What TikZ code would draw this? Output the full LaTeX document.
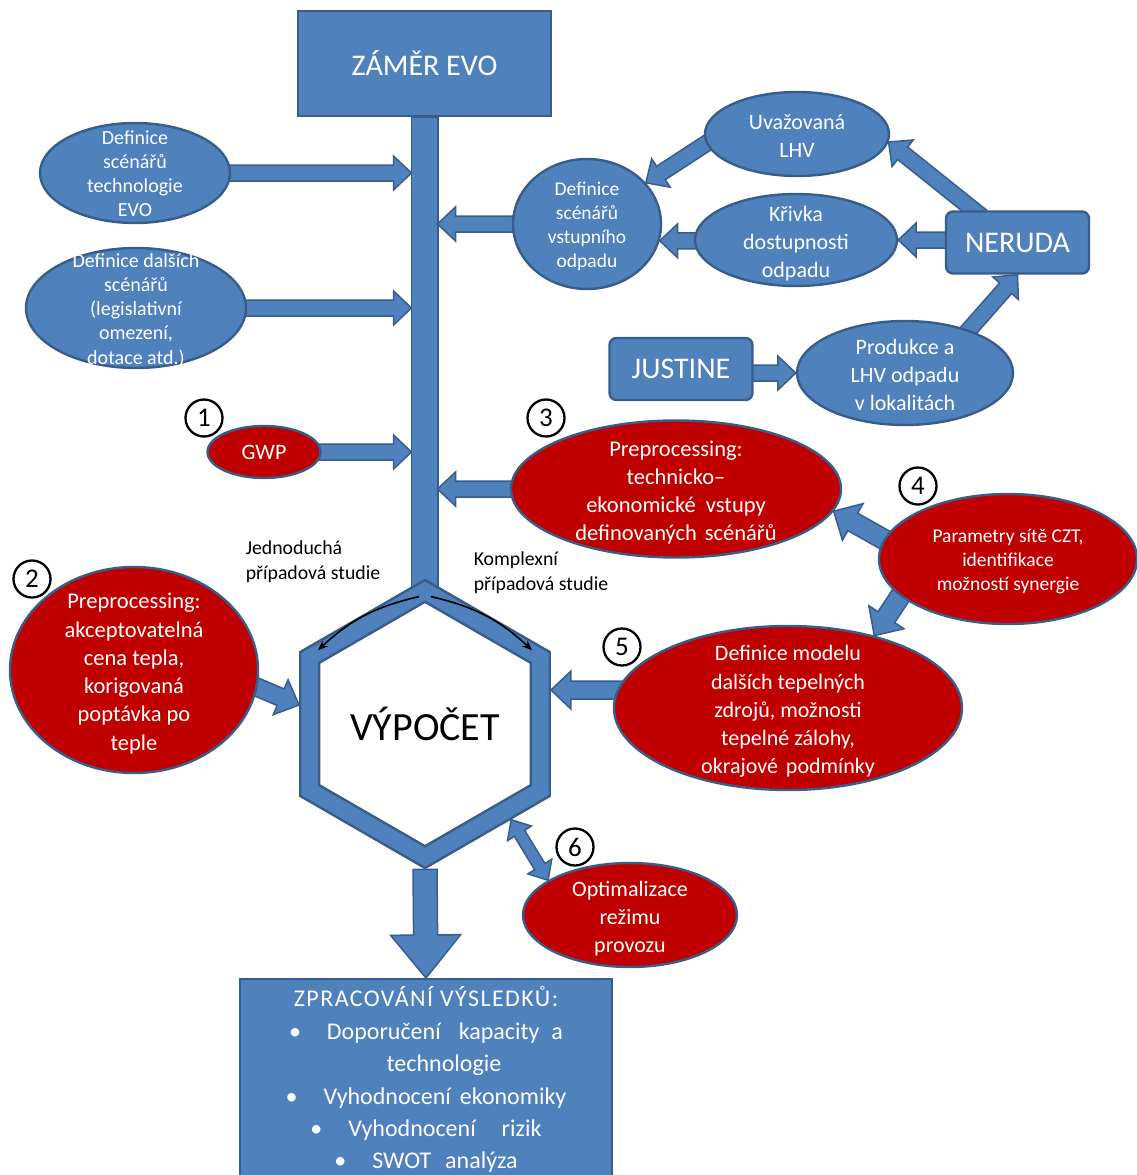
\documentclass[tikz,border=0pt]{standalone}
\usepackage{fontspec}
\setmainfont{Carlito}
\usepackage{tikz}
\usetikzlibrary{shapes.geometric,calc,backgrounds,arrows.meta}

\definecolor{boxblue}{HTML}{4F81BD}
\definecolor{edgeblue}{HTML}{385D8A}
\definecolor{boxred}{HTML}{C00000}

\newcommand\fs[2]{\fontsize{#1}{#2}\selectfont}
\newcommand\ml[1]{\smash{\makebox[0pt]{\raisebox{-.4em}{\begin{tabular}{@{}c@{}}#1\end{tabular}}}}}

% block arrow: tail, tip, half shaft, half head, head length
\newcommand\barr[5]{%
    \path (#1) coordinate (ba) (#2) coordinate (bb);
    \coordinate (bn) at ($(bb)!#5!(ba)$);
    \filldraw[blockarrow] ($(ba)!#3!90:(bb)$) -- ($(bn)!#3!90:(bb)$) -- ($(bn)!#4!90:(bb)$) -- (bb)
        -- ($(bn)!#4!-90:(bb)$) -- ($(bn)!#3!-90:(bb)$) -- ($(ba)!#3!-90:(bb)$) -- cycle;
}
\newcommand\dbarr[5]{%
    \path (#1) coordinate (ba) (#2) coordinate (bb);
    \coordinate (bm) at ($(ba)!#5!(bb)$);
    \coordinate (bn) at ($(bb)!#5!(ba)$);
    \filldraw[blockarrow] (ba) -- ($(bm)!#4!90:(bb)$) -- ($(bm)!#3!90:(bb)$) -- ($(bn)!#3!90:(bb)$) -- ($(bn)!#4!90:(bb)$) -- (bb)
        -- ($(bn)!#4!-90:(bb)$) -- ($(bn)!#3!-90:(bb)$) -- ($(bm)!#3!-90:(bb)$) -- ($(bm)!#4!-90:(bb)$) -- cycle;
}

\tikzset{
    blueshape/.style={draw=edgeblue, line width=2.4pt, fill=boxblue, text=white, inner sep=0pt},
    bellipse/.style={blueshape, ellipse},
    rellipse/.style={blueshape, ellipse, fill=boxred},
    hexa/.style={blueshape, regular polygon, regular polygon sides=6, shape border rotate=30},
    tool/.style={blueshape, rounded corners=7pt, minimum width=143pt, minimum height=62pt, font=\fs{30}{36}},
    num/.style={circle, draw=black, line width=2.3pt, fill=white, minimum size=37pt, inner sep=0pt, font=\fs{27}{30}},
    blockarrow/.style={draw=edgeblue, line width=1.5pt, fill=boxblue},
    note/.style={align=left, font=\fs{19.8}{25}},
}

\begin{document}
\begin{tikzpicture}[x=1pt, y=-1pt]
    \useasboundingbox (0,0) rectangle (1137,1175);

    \node (zamer) [blueshape, minimum width=253pt, minimum height=105pt, font=\fs{30}{36}] at (424.5,63.5) {ZÁMĚR EVO};
    \node (hex) [hexa, minimum size=288pt] at (425,724) {};
    \node (vypocet) [hexa, minimum size=236pt, fill=white, text=black, font=\fs{40}{46}] at (hex) {VÝPOČET};
    \coordinate (barW) at ([xshift=-13pt]zamer.south);
    \coordinate (barE) at ([xshift=13pt]zamer.south);

    \node (tech) [bellipse, minimum width=190pt, minimum height=100pt, font=\fs{20}{24}] at (135,173) {\ml{Definice\\scénářů\\technologie\\EVO}};
    \node (legis) [bellipse, minimum width=220pt, minimum height=120pt, font=\fs{20}{24.3}] at (136,308) {\ml{Definice dalších\\scénářů\\(legislativní\\omezení,\\dotace atd.)}};
    \node (gwp) [rellipse, minimum width=113pt, minimum height=52pt, font=\fs{22}{28}] at (264,452) {GWP};

    \node (vstup) [bellipse, minimum width=148pt, minimum height=130pt, font=\fs{19.5}{24}] at (587,224) {\ml{Definice\\scénářů\\vstupního\\odpadu}};
    \node (uvaz) [bellipse, minimum width=184pt, minimum height=84pt, font=\fs{22}{28}] at (797,134) {\ml{Uvažovaná\\LHV}};
    \node (kriv) [bellipse, minimum width=202pt, minimum height=92pt, font=\fs{22}{28}] at (796,240) {\ml{Křivka\\dostupnosti\\odpadu}};
    \node (neruda) [tool] at (1017.5,242.5) {NERUDA};
    \node (justine) [tool] at (681,369) {JUSTINE};
    \node (prod) [bellipse, minimum width=216pt, minimum height=104pt, font=\fs{22}{28}] at (905,373) {\ml{Produkce a\\LHV odpadu\\v lokalitách}};

    \node (tevstup) [rellipse, minimum width=330pt, minimum height=137pt, font=\fs{22.5}{28}] at (676,489) {\ml{Preprocessing:\\technicko--\\ekonomické\hspace{10pt}vstupy\\definovaných\hspace{8pt}scénářů}};
    \node (czt) [rellipse, minimum width=258pt, minimum height=130pt, font=\fs{19.5}{24}] at (1008,559) {\ml{Parametry sítě CZT,\\identifikace\\možností synergie}};
    \node (zdroje) [rellipse, minimum width=348pt, minimum height=164pt, font=\fs{22}{28.2}] at (788,708) {\ml{Definice modelu\\dalších tepelných\\zdrojů, možnosti\\tepelné zálohy,\\okrajové\hspace{8pt}podmínky}};
    \node (cena) [rellipse, minimum width=248pt, minimum height=206pt, font=\fs{22.5}{28.3}] at (134,670) {\ml{Preprocessing:\\akceptovatelná\\cena tepla,\\korigovaná\\poptávka po\\teple}};
    \node (provoz) [rellipse, minimum width=214pt, minimum height=104pt, font=\fs{22}{28}] at (630,915) {\ml{Optimalizace\\režimu\\provozu}};

    \node (vysl) [blueshape, anchor=north, minimum width=372pt, minimum height=201pt, font=\fs{24}{32.4}, align=center] at (426,978)
        {{\addfontfeature{LetterSpace=6}ZPRACOVÁNÍ VÝSLEDKŮ:}\\ •\hspace{26pt}Doporučení\hspace{18pt}kapacity\hspace{12pt}a\\ \hspace*{36pt}technologie\\
         •\hspace{26pt}Vyhodnocení\hspace{9pt}ekonomiky\\ •\hspace{26pt}Vyhodnocení\hspace{26pt}rizik\\ •\hspace{26pt}SWOT\hspace{14pt}analýza};

    \node (n1) [num] at (204,418) {1};
    \node (n2) [num] at (32,579) {2};
    \node (n3) [num] at (546,418) {3};
    \node (n4) [num] at (918,486) {4};
    \node (n5) [num] at (622,647) {5};
    \node (n6) [num] at (575,847) {6};

    \node (jedn) [note] at (313,562) {Jednoduchá\\případová studie};
    \node (kompl) [note] at (541,573) {Komplexní\\případová studie};

    \coordinate (fork) at ([yshift=-18pt]hex.north);
    \draw[-{Stealth[length=10pt,width=8pt]}, line width=1.6pt] ([xshift=-6pt]fork) to[bend right=15] ([yshift=12pt]vypocet.150);
    \draw[-{Stealth[length=10pt,width=8pt]}, line width=1.6pt] ([xshift=6pt]fork) to[bend left=15] ([yshift=12pt]vypocet.30);

    \begin{scope}[on background layer]
        \filldraw[blockarrow] (barW) rectangle ([xshift=13pt, yshift=-30pt]hex.north);
        \barr{$(tech.east)+(-6,0)$}{tech.east -| barW}{8pt}{17pt}{18pt}
        \barr{$(legis.east)+(-6,0)$}{legis.east -| barW}{8pt}{17pt}{18pt}
        \barr{$(gwp.east)+(-6,0)$}{gwp.east -| barW}{8pt}{17pt}{18pt}
        \barr{$(vstup.west)+(6,0)$}{vstup.west -| barE}{8pt}{17pt}{18pt}
        \barr{$(tevstup.west)+(6,0)$}{tevstup.west -| barE}{8pt}{17pt}{18pt}
        \barr{$(uvaz.186)!-8pt!(vstup.35)$}{vstup.35}{8pt}{17pt}{18pt}
        \barr{$(vstup.-13 -| kriv.west)+(6,0)$}{vstup.-13}{8pt}{17pt}{18pt}
        \barr{$(kriv.east -| neruda.west)+(6,0)$}{kriv.east}{8pt}{17pt}{18pt}
        \barr{$(neruda.north)+(-36,6)$}{uvaz.-5}{8pt}{17pt}{18pt}
        \barr{$(prod.34)!-8pt!(neruda.south)$}{neruda.south}{8pt}{17pt}{18pt}
        \barr{$(prod.west -| justine.east)+(-6,0)$}{prod.west}{8pt}{17pt}{18pt}
        \barr{$(czt.171)!-8pt!(tevstup.-8)$}{tevstup.-8}{10pt}{21pt}{22pt}
        \barr{$(czt.199)!-8pt!(zdroje.40)$}{zdroje.40}{10pt}{21pt}{22pt}
        \barr{$(zdroje.174)+(6,0)$}{zdroje.174 -| hex.east}{9pt}{19pt}{20pt}
        \coordinate (cenatip) at ($(hex.west)+(0,-19)$);
        \barr{$(cena.-8)!-8pt!(cenatip)$}{cenatip}{9pt}{19pt}{20pt}
        \barr{hex.south}{vysl.north}{12pt}{35pt}{43pt}
        \dbarr{hex.-48}{provoz.157}{6pt}{14pt}{16pt}
    \end{scope}
\end{tikzpicture}
\end{document}
